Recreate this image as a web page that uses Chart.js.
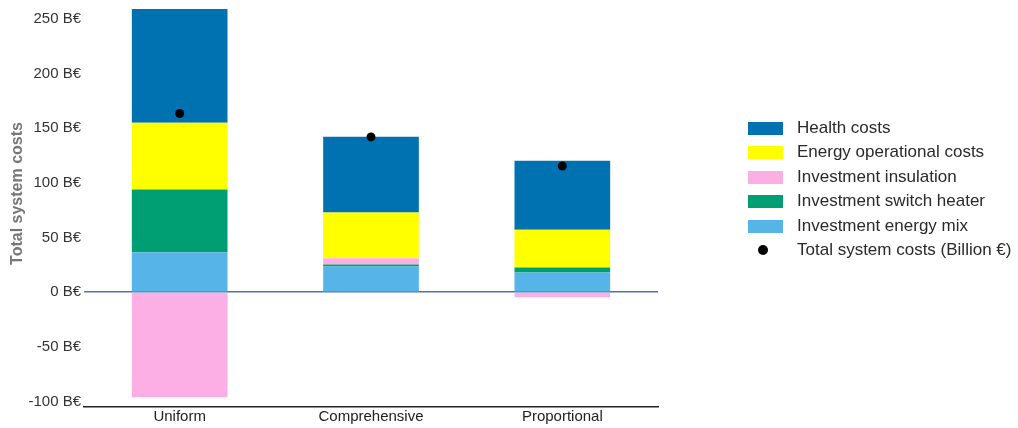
<!DOCTYPE html>
<html>
<head>
<meta charset="utf-8">
<script src="https://cdn.jsdelivr.net/npm/chart.js@4/dist/chart.umd.min.js"></script>
<style>
  html, body { margin: 0; padding: 0; background: #fff; overflow: hidden; }
  body { width: 1018px; height: 428px; position: relative; font-family: "Liberation Sans", Arial, sans-serif; }
  #wrap { position: absolute; left: 0; top: -32px; width: 1018px; height: 460px; }
  #legend { position: absolute; left: 748px; top: 117px; }
  .row { position: relative; height: 24.4px; }
  .sw { position: absolute; left: 0; top: 5px; width: 35px; height: 13px; }
  .dot { position: absolute; left: 10px; top: 6.5px; width: 10px; height: 10px; border-radius: 50%; background: #000; }
  .lbl { position: absolute; left: 49px; top: 1px; font-size: 17px; color: #2a2a2a; white-space: nowrap; }
</style>
</head>
<body>
<div id="wrap"><canvas id="chart"></canvas></div>
<div id="legend"></div>
<script>
// values (billion euros)
const categories = ['Uniform', 'Comprehensive', 'Proportional'];
const investmentEnergyMix = [36.5, 23.5, 18.0];
const investmentSwitchHeater = [57.3, 1.8, 4.5];
const investmentInsulation = [-96.0, 5.7, -4.6];
const energyOperationalCosts = [61.2, 41.8, 34.7];
const healthCosts = [104.0, 69.3, 63.0];
const totalSystemCosts = [163.4, 142.0, 115.4];
const yTicks = [-100, -50, 0, 50, 100, 150, 200, 250];

const colors = {
  health: '#0072b2',
  energy: '#ffff00',
  insulation: '#fbafe4',
  switchHeater: '#009e73',
  energyMix: '#56b4e9'
};

Chart.defaults.font.family = '"Liberation Sans", Arial, sans-serif';
Chart.defaults.animation = false;

function barSet(label, data, color) {
  return {
    label: label,
    data: data,
    backgroundColor: color,
    borderWidth: 0,
    stack: 'costs',
    barPercentage: 0.5,
    categoryPercentage: 1.0
  };
}

const ctx = document.getElementById('chart').getContext('2d');
new Chart(ctx, {
  type: 'bar',
  data: {
    labels: categories,
    datasets: [
      barSet('Investment energy mix', investmentEnergyMix, colors.energyMix),
      barSet('Investment switch heater', investmentSwitchHeater, colors.switchHeater),
      barSet('Investment insulation', investmentInsulation, colors.insulation),
      barSet('Energy operational costs', energyOperationalCosts, colors.energy),
      barSet('Health costs', healthCosts, colors.health),
      {
        type: 'line',
        label: 'Total system costs (Billion €)',
        data: totalSystemCosts,
        showLine: false,
        pointRadius: 4.5,
        pointBackgroundColor: '#000',
        pointBorderWidth: 0,
        stack: 'total',
        order: -1
      }
    ]
  },
  options: {
    responsive: true,
    maintainAspectRatio: false,
    layout: { padding: { left: 0, right: 360, top: 0, bottom: 0 } },
    plugins: {
      legend: { display: false },
      tooltip: { enabled: false }
    },
    scales: {
      x: {
        grid: { display: false, drawTicks: false },
        border: { display: true, color: '#222', width: 1.5 },
        ticks: { color: '#222', font: { size: 15 }, padding: 1 },
        afterFit: (scale) => { scale.height = 21; }
      },
      y: {
        stacked: true,
        min: -105,
        max: 285.5,
        z: 1,
        afterBuildTicks: (scale) => { scale.ticks = yTicks.map(v => ({ value: v })); },
        grid: {
          drawTicks: false,
          lineWidth: 1.5,
          color: (c) => (c.tick && c.tick.value === 0 ? '#4c72b0' : 'rgba(0,0,0,0)')
        },
        border: { display: false },
        ticks: {
          color: '#333',
          font: { size: 15 },
          padding: 3,
          callback: (v) => v + ' B€'
        },
        title: {
          display: true,
          text: 'Total system costs',
          color: '#777',
          font: { size: 16, weight: 'bold' },
          padding: { top: 8, bottom: 0 }
        },
        afterFit: (scale) => { scale.width = 84; }
      }
    }
  }
});

// legend, same order as the reference
const legendItems = [
  ['Health costs', colors.health],
  ['Energy operational costs', colors.energy],
  ['Investment insulation', colors.insulation],
  ['Investment switch heater', colors.switchHeater],
  ['Investment energy mix', colors.energyMix],
  ['Total system costs (Billion €)', null]
];
const legend = document.getElementById('legend');
legendItems.forEach(([text, color]) => {
  const row = document.createElement('div');
  row.className = 'row';
  const mark = document.createElement('div');
  if (color) {
    mark.className = 'sw';
    mark.style.background = color;
  } else {
    mark.className = 'dot';
  }
  const lbl = document.createElement('div');
  lbl.className = 'lbl';
  lbl.textContent = text;
  row.appendChild(mark);
  row.appendChild(lbl);
  legend.appendChild(row);
});
</script>
</body>
</html>
